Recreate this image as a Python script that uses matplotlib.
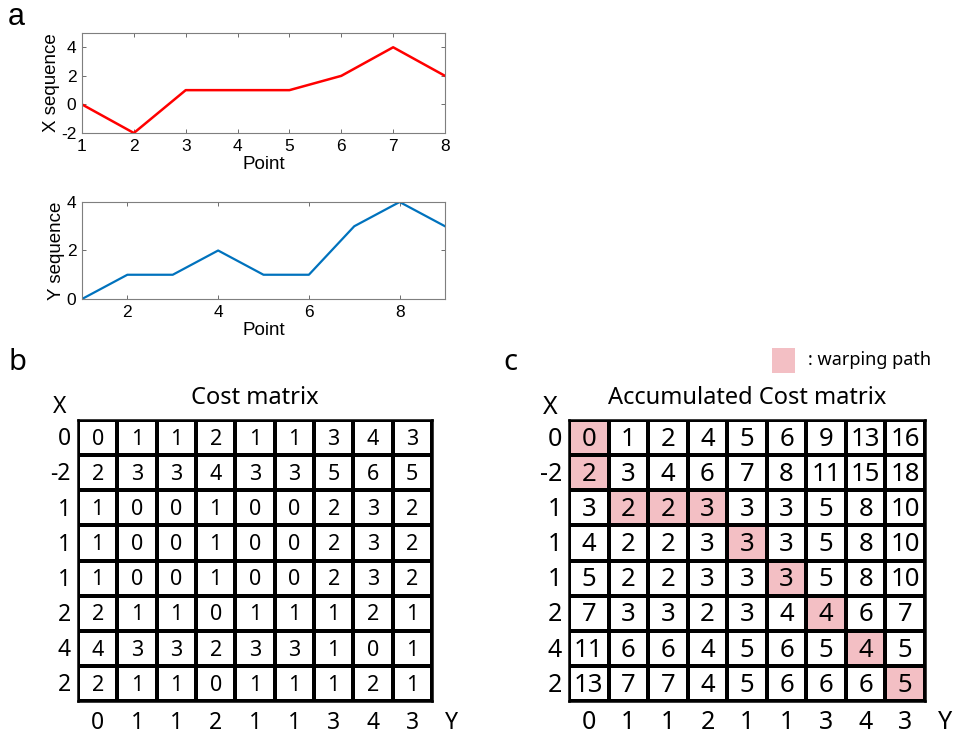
import matplotlib
matplotlib.use("Agg")
import matplotlib.pyplot as plt
from matplotlib.colors import ListedColormap
from matplotlib.patches import Rectangle
import numpy as np

plt.rcParams["axes.unicode_minus"] = False

# sequences
x_points = [1, 2, 3, 4, 5, 6, 7, 8]
x_seq = [0, -2, 1, 1, 1, 2, 4, 2]
y_points = [1, 2, 3, 4, 5, 6, 7, 8, 9]
y_seq = [0, 1, 1, 2, 1, 1, 3, 4, 3]

# matrices (rows follow X, columns follow Y)
cost = [
    [0, 1, 1, 2, 1, 1, 3, 4, 3],
    [2, 3, 3, 4, 3, 3, 5, 6, 5],
    [1, 0, 0, 1, 0, 0, 2, 3, 2],
    [1, 0, 0, 1, 0, 0, 2, 3, 2],
    [1, 0, 0, 1, 0, 0, 2, 3, 2],
    [2, 1, 1, 0, 1, 1, 1, 2, 1],
    [4, 3, 3, 2, 3, 3, 1, 0, 1],
    [2, 1, 1, 0, 1, 1, 1, 2, 1],
]
acc_cost = [
    [0, 1, 2, 4, 5, 6, 9, 13, 16],
    [2, 3, 4, 6, 7, 8, 11, 15, 18],
    [3, 2, 2, 3, 3, 3, 5, 8, 10],
    [4, 2, 2, 3, 3, 3, 5, 8, 10],
    [5, 2, 2, 3, 3, 3, 5, 8, 10],
    [7, 3, 3, 2, 3, 4, 4, 6, 7],
    [11, 6, 6, 4, 5, 6, 5, 4, 5],
    [13, 7, 7, 4, 5, 6, 6, 6, 5],
]
warp_path = [(0, 0), (1, 0), (2, 1), (2, 2), (2, 3), (3, 4), (4, 5), (5, 6), (6, 7), (7, 8)]

PINK = "#f3bfc4"
MAT_FONT = ["Noto Sans", "DejaVu Sans"]
LINE_FONT = ["Liberation Sans", "DejaVu Sans"]

W, H = 955, 735
fig = plt.figure(figsize=(W / 100, H / 100), dpi=100)


def px_axes(left, top, right, bottom):
    return fig.add_axes([left / W, 1 - bottom / H, (right - left) / W, (bottom - top) / H])


def style_line_axes(ax):
    for sp in ax.spines.values():
        sp.set_color("#7f7f7f")
        sp.set_linewidth(0.8)
    ax.tick_params(direction="in", top=True, right=True, length=3, width=0.6,
                   color="#555555", labelsize=12.5, pad=4)
    for lab in ax.get_xticklabels() + ax.get_yticklabels():
        lab.set_family(LINE_FONT)


# --- panel a: the two sequences ---
ax1 = px_axes(82, 33, 445, 133)
ax1.plot(x_points, x_seq, color="#ff0000", lw=1.8)
ax1.set_xlim(1, 8)
ax1.set_ylim(-2, 5)
ax1.set_xticks(x_points)
ax1.set_yticks([-2, 0, 2, 4])
ax1.set_xlabel("Point", family=LINE_FONT, fontsize=13.5, labelpad=2)
ax1.set_ylabel("X sequence", family=LINE_FONT, fontsize=13.5, labelpad=1)
style_line_axes(ax1)

ax2 = px_axes(82, 202, 445, 299)
ax2.plot(y_points, y_seq, color="#0072bd", lw=1.6)
ax2.set_xlim(1, 9)
ax2.set_ylim(0, 4)
ax2.set_xticks([2, 4, 6, 8])
ax2.set_yticks([0, 2, 4])
ax2.set_xlabel("Point", family=LINE_FONT, fontsize=13.5, labelpad=2)
ax2.set_ylabel("Y sequence", family=LINE_FONT, fontsize=13.5, labelpad=1)
style_line_axes(ax2)


# --- panels b and c: cost grids ---
def draw_matrix(ax, values, title, path=None, cell_fs=15, edge_fs=16.5):
    vals = np.array(values)
    nr, nc = vals.shape
    mask = np.zeros_like(vals, dtype=float)
    if path:
        for r, c in path:
            mask[r, c] = 1
    ax.pcolormesh(np.arange(nc + 1), np.arange(nr + 1), mask,
                  cmap=ListedColormap(["white", PINK]), vmin=0, vmax=1,
                  edgecolors="black", linewidth=1.6)
    ax.set_xlim(0, nc)
    ax.set_ylim(nr, 0)
    for sp in ax.spines.values():
        sp.set_linewidth(1.8)
    ax.set_xticks([])
    ax.set_yticks([])
    for r in range(nr):
        for c in range(nc):
            ax.text(c + 0.5, r + 0.55, str(vals[r, c]), ha="center", va="center",
                    fontsize=cell_fs, family=MAT_FONT)
    # sequence values along the edges
    for r, v in enumerate(x_seq):
        ax.text(-0.18, r + 0.55, str(v), ha="right", va="center",
                fontsize=edge_fs, family=MAT_FONT, clip_on=False)
    for c, v in enumerate(y_seq):
        ax.text(c + 0.5, nr + 0.62, str(v), ha="center", va="center",
                fontsize=edge_fs, family=MAT_FONT, clip_on=False)
    ax.text(-0.48, -0.37, "X", ha="center", va="center", fontsize=edge_fs,
            family=MAT_FONT, clip_on=False)
    ax.text(nc + 0.5, nr + 0.62, "Y", ha="center", va="center", fontsize=edge_fs,
            family=MAT_FONT, clip_on=False)
    ax.text(nc / 2, -0.62, title, ha="center", va="center", fontsize=17,
            family=MAT_FONT, clip_on=False)


axb = px_axes(78, 420, 432, 701)
draw_matrix(axb, cost, "Cost matrix", cell_fs=15.5, edge_fs=16.5)

axc = px_axes(569, 420, 925, 701)
draw_matrix(axc, acc_cost, "Accumulated Cost matrix", path=warp_path,
            cell_fs=18.5, edge_fs=18)

# warping path key
axc.add_patch(Rectangle((0.570, 1.167), 0.0646, 0.089, transform=axc.transAxes,
                        facecolor=PINK, edgecolor="none", clip_on=False))
axc.text(0.671, 1.213, ": warping path", transform=axc.transAxes, ha="left",
         va="center", fontsize=13, family=MAT_FONT, clip_on=False)

# panel letters
fig.text(16 / W, 1 - 17 / H, "a", ha="center", va="center", fontsize=22, family=LINE_FONT)
fig.text(17 / W, 1 - 362 / H, "b", ha="center", va="center", fontsize=21, family=MAT_FONT)
fig.text(510 / W, 1 - 363 / H, "c", ha="center", va="center", fontsize=21, family=MAT_FONT)

fig.savefig("out.png", dpi=100)
